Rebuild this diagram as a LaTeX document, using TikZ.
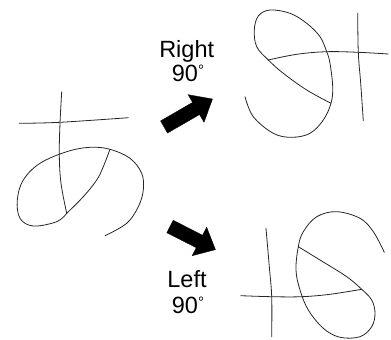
\documentclass[tikz,border=0pt]{standalone}
\usepackage{fontspec}
\setmainfont{Liberation Sans}
\newcommand{\degring}{\raisebox{6pt}{\fontsize{15}{15}\selectfont °}}
\begin{document}
\begin{tikzpicture}[x=1pt,y=-1pt,
  stroke/.style={line width=0.8pt,black!85,line cap=round,line join=round},
  lbl/.style={font=\fontsize{23.5}{26}\selectfont,anchor=base,inner sep=0pt},
  blockarrow/.style={fill=black,draw=black,line width=0.3pt}]
\useasboundingbox (0,0) rectangle (391,340);
% left character
\draw[stroke] plot[smooth,tension=0.6] coordinates {(61.7,91.7) (60,123.3) (59.3,155) (61,183.3) (66.7,213.3)};
\draw[stroke] plot[smooth,tension=0.6] coordinates {(19.3,123.3) (60,122.3) (128.3,117.7)};
\draw[stroke] plot[smooth,tension=0.6] coordinates {(110,149.3) (103.3,166.7) (96.7,180) (83.3,196.7) (66.7,213.3)};
\draw[stroke] plot[smooth,tension=0.6] coordinates {(66.7,213.3) (56.7,221.7) (33.3,226) (20,218.3) (17.3,200) (23.3,180) (40,163.3) (66.7,151.7) (90,147.3) (110,149.3) (130,158.3) (141.7,173.3) (143.3,190) (138.3,206.7) (126.7,223.3) (105,235.7)};
% top right character
\draw[stroke] plot[smooth,tension=0.6] coordinates {(357.7,13.3) (358.3,52.3) (360.7,83.3) (363.3,120.7)};
\draw[stroke] plot[smooth,tension=0.6] coordinates {(268.3,60) (296.7,54.3) (326.7,51.7) (358.3,52.3) (388.3,54)};
\draw[stroke] plot[smooth,tension=0.6] coordinates {(245,96.7) (253.3,116.7) (273.3,133.3) (291.7,137.3) (310,133.3) (323.3,120) (331,103.3) (332.7,86.7) (330,63.3) (326.7,51.7) (320,36.7) (306.7,23.3) (290,13.3) (270,10) (258.3,16) (254.3,30) (256.7,46.7) (268.3,60) (283.3,73.3) (306.7,90) (331,103.3)};
% bottom right character
\draw[stroke] plot[smooth,tension=0.6] coordinates {(266,228.3) (269.3,266.7) (271.7,296.7) (271.7,336.7)};
\draw[stroke] plot[smooth,tension=0.6] coordinates {(240.7,295.7) (271.7,296.7) (301.7,296.7) (330,294.3) (361.7,289.3)};
\draw[stroke] plot[smooth,tension=0.6] coordinates {(384.3,252.3) (373.3,231.7) (360,218.3) (336.7,211.7) (316.7,216.7) (303.3,231.7) (298.3,246.7) (296,270) (300,290) (308.3,310) (323.3,328.3) (340,337.3) (360,336.7) (371.7,326.7) (375,313.3) (371.7,300) (361.7,289.3) (346.7,276.7) (320,260) (298.3,246.7)};
% arrows
\begin{scope}[shift={(164,127)},rotate=30]
\draw[blockarrow] (0,-7) -- (37,-7) -- (37,-16) -- (56,0) -- (37,16) -- (37,7) -- (0,7) -- cycle;
\end{scope}
\begin{scope}[shift={(170,226.5)},rotate=-27]
\draw[blockarrow] (0,-7) -- (33,-7) -- (33,-16) -- (51,0) -- (33,16) -- (33,7) -- (0,7) -- cycle;
\end{scope}
% labels
\node[lbl] (r1) at (186.7,57.7) {Right};
\node[lbl] (r2) at (188,81.7) {90\degring};
\node[lbl] (l1) at (187,287.3) {Left};
\node[lbl] (l2) at (188,313.3) {90\degring};
\end{tikzpicture}
\end{document}
